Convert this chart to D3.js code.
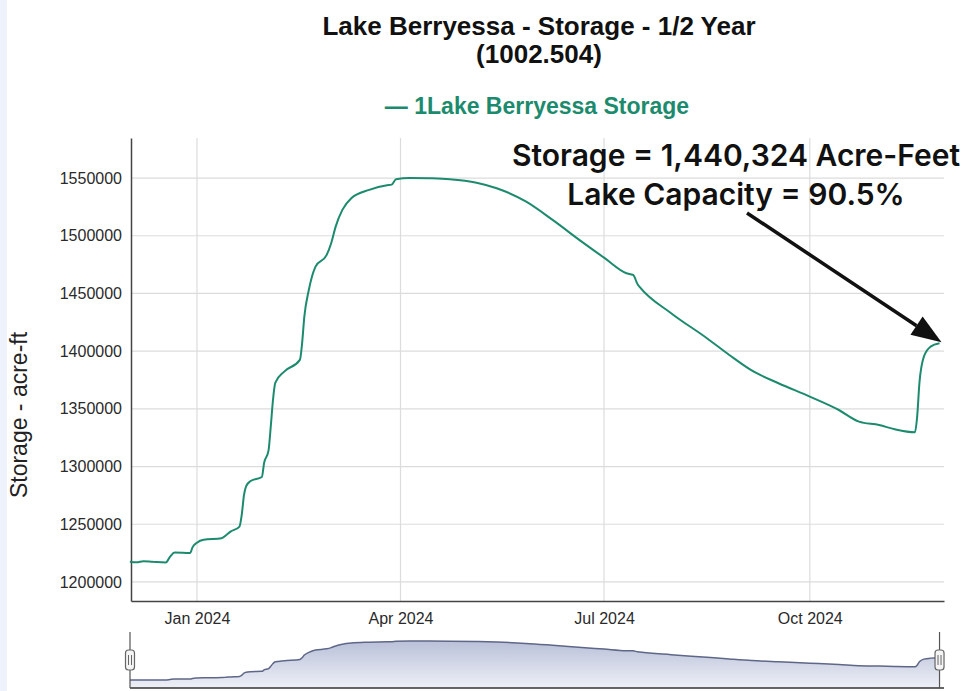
<!DOCTYPE html>
<html>
<head>
<meta charset="utf-8">
<script src="https://cdn.jsdelivr.net/npm/d3@7"></script>
<style>
  body { margin: 0; background: #fff; }
  svg { display: block; }
</style>
</head>
<body>
<div id="chart"></div>
<script>
// data
var dates = [
  "2023-12-02","2023-12-05","2023-12-08","2023-12-12","2023-12-18","2023-12-20","2023-12-22",
  "2023-12-29","2023-12-30","2024-01-01","2024-01-04","2024-01-12","2024-01-14","2024-01-16",
  "2024-01-20","2024-01-21","2024-01-22","2024-01-23","2024-01-25","2024-01-30","2024-01-31",
  "2024-02-02","2024-02-03","2024-02-04","2024-02-05","2024-02-09","2024-02-16","2024-02-17",
  "2024-02-18","2024-02-20","2024-02-23","2024-02-28","2024-03-01","2024-03-03","2024-03-06",
  "2024-03-10","2024-03-18","2024-03-26","2024-03-28","2024-03-30","2024-04-05","2024-04-14",
  "2024-04-23","2024-05-05","2024-05-14","2024-05-27","2024-06-08","2024-06-21","2024-07-01",
  "2024-07-11","2024-07-14","2024-07-16","2024-07-17","2024-07-31","2024-08-16","2024-08-26",
  "2024-09-05","2024-09-17","2024-10-01","2024-10-14","2024-10-23","2024-11-01","2024-11-08",
  "2024-11-17","2024-11-18","2024-11-19","2024-11-21","2024-11-24","2024-11-28"
];
var storageValues = [
  1217500,1217000,1218000,1217500,1216800,1222000,1225600,
  1225200,1230000,1234000,1236500,1237800,1240500,1243600,
  1248000,1258000,1275000,1283000,1287500,1291000,1303000,
  1314000,1335000,1358000,1372500,1382300,1392400,1406800,
  1430000,1453000,1473200,1483400,1493500,1507900,1522400,
  1532500,1539700,1543800,1544300,1549000,1550100,1549800,
  1549000,1546000,1541200,1529700,1513700,1494900,1481000,
  1467500,1466000,1458000,1455500,1432900,1411200,1396700,
  1383300,1372200,1360600,1349000,1338900,1336000,1332300,
  1329700,1343300,1372200,1395300,1403900,1406800
];
var yTickValues = [1200000, 1250000, 1300000, 1350000, 1400000, 1450000, 1500000, 1550000];
var xTickDates = ["2024-01-01", "2024-04-01", "2024-07-01", "2024-10-01"];
var titleLines = ["Lake Berryessa - Storage - 1/2 Year", "(1002.504)"];
var seriesName = "1Lake Berryessa Storage";
var noteLines = ["Storage = 1,440,324 Acre-Feet", "Lake Capacity = 90.5%"];

var svgWidth = 964;
var svgHeight = 691;
var margin = { top: 138, right: 20, bottom: 90, left: 131 };
var width = svgWidth - margin.left - margin.right;
var height = svgHeight - margin.top - margin.bottom;

var parse = d3.utcParse("%Y-%m-%d");
var lineColor = "#1c8b6d";

var data = dates.map((d, i) => ({ date: parse(d), value: storageValues[i] }));

var svg = d3.select("#chart")
  .append("svg")
  .attr("width", svgWidth)
  .attr("height", svgHeight)
  .style("font-family", "'Liberation Sans', Arial, sans-serif");

// faint frame on the left edge
svg.append("rect")
  .attr("x", 0).attr("y", 0)
  .attr("width", 7).attr("height", svgHeight)
  .attr("fill", "#eef3fb");

// Title
svg.selectAll(".title")
  .data(titleLines)
  .enter()
  .append("text")
  .attr("class", "title")
  .attr("x", 539)
  .attr("y", (d, i) => 35 + i * 28)
  .attr("text-anchor", "middle")
  .style("font-weight", "bold")
  .style("font-size", "26px")
  .style("fill", "#111")
  .text(d => d);

// Legend
svg.append("text")
  .attr("x", 537)
  .attr("y", 114)
  .attr("text-anchor", "middle")
  .style("font-weight", "bold")
  .style("font-size", "23px")
  .style("fill", lineColor)
  .text("\u2014 " + seriesName);

var chartGroup = svg.append("g")
  .attr("transform", `translate(${margin.left}, ${margin.top})`);

// Scales
var xScale = d3.scaleUtc()
  .domain([Date.UTC(2023, 11, 2, 12), Date.UTC(2024, 10, 30)])
  .range([0, width]);

var yScale = d3.scaleLinear()
  .domain([1183500, 1584700])
  .range([height, 0]);

// Grid
chartGroup.append("g")
  .selectAll("line")
  .data(yTickValues)
  .enter()
  .append("line")
  .attr("x1", 0).attr("x2", width)
  .attr("y1", d => yScale(d)).attr("y2", d => yScale(d))
  .attr("stroke", "#dcdcdc")
  .attr("stroke-width", 1.2);

chartGroup.append("g")
  .selectAll("line")
  .data(xTickDates.map(parse))
  .enter()
  .append("line")
  .attr("x1", d => xScale(d)).attr("x2", d => xScale(d))
  .attr("y1", 0).attr("y2", height)
  .attr("stroke", "#dcdcdc")
  .attr("stroke-width", 1.2);

// Axes
var bottomAxis = d3.axisBottom(xScale)
  .tickValues(xTickDates.map(parse))
  .tickFormat(d3.utcFormat("%b %Y"))
  .tickSize(0)
  .tickPadding(12);
var leftAxis = d3.axisLeft(yScale)
  .tickValues(yTickValues)
  .tickFormat(d3.format("d"))
  .tickSize(0)
  .tickPadding(9);

var xAxisG = chartGroup.append("g")
  .attr("transform", `translate(0, ${height})`)
  .call(bottomAxis);
var yAxisG = chartGroup.append("g")
  .call(leftAxis);

[xAxisG, yAxisG].forEach(g => {
  g.select(".domain").attr("stroke", "#444").attr("stroke-width", 1.5);
  g.selectAll("text")
    .style("font-family", "'Liberation Sans', Arial, sans-serif")
    .style("font-size", "16px")
    .style("fill", "#2a2a2a");
});

// Line
var line = d3.line()
  .x(d => xScale(d.date))
  .y(d => yScale(d.value))
  .curve(d3.curveMonotoneX);

chartGroup.append("path")
  .datum(data)
  .attr("d", line)
  .attr("fill", "none")
  .attr("stroke", lineColor)
  .attr("stroke-width", 2);

// Y axis title
svg.append("text")
  .attr("transform", "rotate(-90)")
  .attr("x", -415)
  .attr("y", 27)
  .attr("text-anchor", "middle")
  .style("font-size", "23px")
  .style("fill", "#222")
  .text("Storage - acre-ft");

// Annotation
svg.selectAll(".note")
  .data(noteLines)
  .enter()
  .append("text")
  .attr("class", "note")
  .attr("x", 736)
  .attr("y", (d, i) => 166 + i * 39)
  .attr("text-anchor", "middle")
  .style("font-family", "Inter, 'Liberation Sans', sans-serif")
  .style("font-weight", "600")
  .style("font-size", "30px")
  .style("fill", "#111")
  .text(d => d);

// Arrow pointing to the last value
var last = data[data.length - 1];
var tipX = margin.left + xScale(last.date) + 2;
var tipY = margin.top + yScale(last.value) - 1;
var startX = 747, startY = 213;
var ang = Math.atan2(tipY - startY, tipX - startX);
var headLen = 30, headW = 11;
var baseX = tipX - headLen * Math.cos(ang), baseY = tipY - headLen * Math.sin(ang);
svg.append("line")
  .attr("x1", startX).attr("y1", startY)
  .attr("x2", baseX).attr("y2", baseY)
  .attr("stroke", "#111")
  .attr("stroke-width", 3.5);
svg.append("path")
  .attr("d", `M${tipX},${tipY} L${baseX + headW * Math.sin(ang)},${baseY - headW * Math.cos(ang)} L${baseX - headW * Math.sin(ang)},${baseY + headW * Math.cos(ang)} Z`)
  .attr("fill", "#111");

// Navigator
var navTop = 641, navBottom = 688;
var navY = d3.scaleLinear()
  .domain([1148800, 1550100])
  .range([navBottom, navTop]);

var defs = svg.append("defs");
var grad = defs.append("linearGradient")
  .attr("id", "navGrad")
  .attr("x1", 0).attr("y1", 0).attr("x2", 0).attr("y2", 1);
grad.append("stop").attr("offset", "0%").attr("stop-color", "#b9c0d8");
grad.append("stop").attr("offset", "100%").attr("stop-color", "#eef0f7");

var navArea = d3.area()
  .x(d => margin.left + xScale(d.date))
  .y0(navBottom)
  .y1(d => navY(d.value))
  .curve(d3.curveMonotoneX);
var navLine = d3.line()
  .x(d => margin.left + xScale(d.date))
  .y(d => navY(d.value))
  .curve(d3.curveMonotoneX);

svg.append("path")
  .datum(data)
  .attr("d", navArea)
  .attr("fill", "url(#navGrad)");
svg.append("path")
  .datum(data)
  .attr("d", navLine)
  .attr("fill", "none")
  .attr("stroke", "#5f6788")
  .attr("stroke-width", 1.5);

svg.append("line")
  .attr("x1", margin.left - 1).attr("x2", margin.left + width)
  .attr("y1", navBottom).attr("y2", navBottom)
  .attr("stroke", "#333")
  .attr("stroke-width", 1.5);

// navigator handles
[margin.left - 1, margin.left + xScale(last.date)].forEach(hx => {
  svg.append("line")
    .attr("x1", hx).attr("x2", hx)
    .attr("y1", 632).attr("y2", navBottom)
    .attr("stroke", "#555")
    .attr("stroke-width", 1.2);
  svg.append("rect")
    .attr("x", hx - 4.5).attr("y", 650)
    .attr("width", 9).attr("height", 20)
    .attr("rx", 3)
    .attr("fill", "#f4f4f4")
    .attr("stroke", "#666")
    .attr("stroke-width", 1.2);
  [-1.5, 1.5].forEach(o => {
    svg.append("line")
      .attr("x1", hx + o).attr("x2", hx + o)
      .attr("y1", 655).attr("y2", 665)
      .attr("stroke", "#666")
      .attr("stroke-width", 1);
  });
});
</script>
</body>
</html>
